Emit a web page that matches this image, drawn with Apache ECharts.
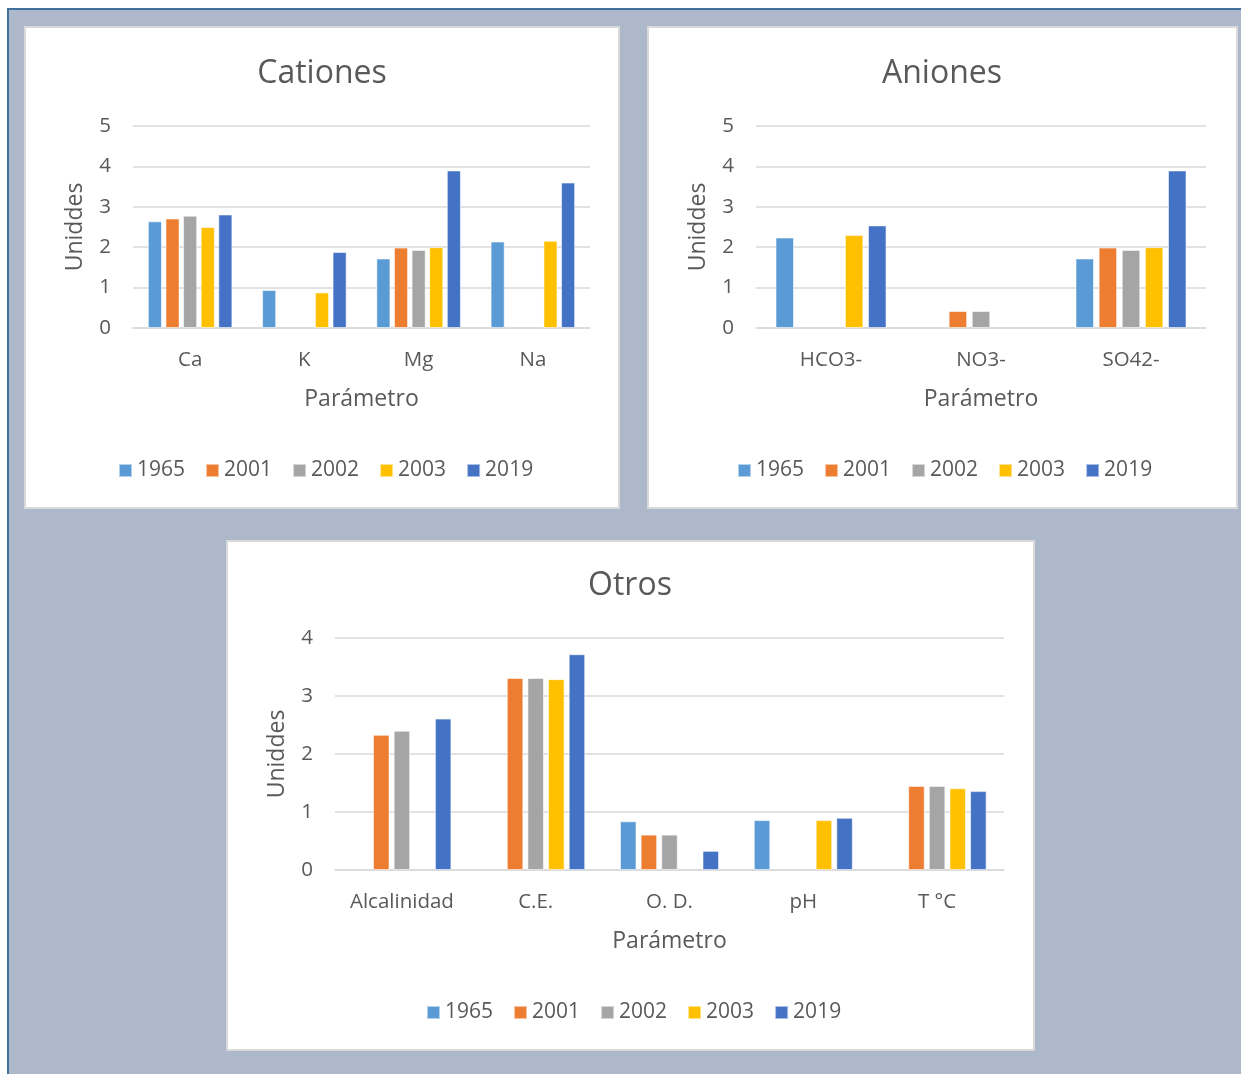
<!DOCTYPE html>
<html>
<head>
<meta charset="utf-8">
<script src="https://cdn.jsdelivr.net/npm/echarts@6/dist/echarts.min.js"></script>
<style>
html,body{margin:0;padding:0;background:#fff;}
#c{width:1241px;height:1074px;}
</style>
</head>
<body>
<div id="c"></div>
<script>
const years = ['1965','2001','2002','2003','2019'];
const colors = ['#5B9BD5','#ED7D31','#A5A5A5','#FFC000','#4472C4'];

const catCategories = ['Ca','K','Mg','Na'];
const cat1965 = [2.64, 0.94, 1.72, 2.14];
const cat2001 = [2.71, null, 1.99, null];
const cat2002 = [2.78, null, 1.93, null];
const cat2003 = [2.50, 0.88, 2.00, 2.16];
const cat2019 = [2.81, 1.88, 3.90, 3.60];

const aniCategories = ['HCO3-','NO3-','SO42-'];
const ani1965 = [2.24, null, 1.72];
const ani2001 = [null, 0.42, 1.99];
const ani2002 = [null, 0.42, 1.93];
const ani2003 = [2.30, null, 2.00];
const ani2019 = [2.54, null, 3.90];

const otrCategories = ['Alcalinidad','C.E.','O. D.','pH','T °C'];
const otr1965 = [null, null, 0.84, 0.86, null];
const otr2001 = [2.33, 3.31, 0.61, null, 1.45];
const otr2002 = [2.40, 3.31, 0.61, null, 1.45];
const otr2003 = [null, 3.29, null, 0.86, 1.41];
const otr2019 = [2.61, 3.72, 0.33, 0.90, 1.36];

const catTicks = [0,1,2,3,4,5];
const otrTicks = [0,1,2,3,4];

const FONT = 'Open Sans';
const TXT = '#595959';
const GRIDC = '#D9D9D9';

const chart = echarts.init(document.getElementById('c'), null, {renderer:'canvas'});

function xAxisDef(idx, cats){
  return {
    type:'category', gridIndex: idx, data: cats,
    axisLine:{show:true, lineStyle:{color:GRIDC, width:1.5}},
    axisTick:{show:false},
    axisLabel:{color:TXT, fontFamily:FONT, fontSize:20.5, margin:22, interval:0},
    name:'Parámetro', nameLocation:'middle', nameGap:60,
    nameTextStyle:{color:TXT, fontFamily:FONT, fontSize:23}
  };
}
function yAxisDef(idx, ticks){
  return {
    type:'value', gridIndex: idx, min: ticks[0], max: ticks[ticks.length-1], interval: 1,
    axisLine:{show:false}, axisTick:{show:false},
    axisLabel:{color:TXT, fontFamily:FONT, fontSize:20.5, margin:22},
    splitLine:{lineStyle:{color:GRIDC, width:1.5}},
    name:'Uniddes', nameLocation:'middle', nameGap:46, nameRotate:90,
    nameTextStyle:{color:TXT, fontFamily:FONT, fontSize:23}
  };
}
function seriesFor(idx, arrs){
  return arrs.map((d,i)=>({
    type:'bar', name: years[i], xAxisIndex: idx, yAxisIndex: idx, data: d,
    barGap:'25%', barCategoryGap:'26%',
    itemStyle:{color: colors[i], borderColor:'rgba(255,255,255,0.55)', borderWidth:1},
    emphasis:{disabled:true}
  }));
}
function legendDef(left, top){
  return {
    data: years, left: left, top: top, padding:0,
    icon:'rect', itemWidth:13, itemHeight:13, itemGap:20,
    textStyle:{color:TXT, fontFamily:FONT, fontSize:21},
    selectedMode:false
  };
}
function titleDef(text, cx, top){
  return {text:text, left:cx, top:top, textAlign:'center', padding:0,
    textStyle:{color:TXT, fontFamily:FONT, fontSize:32, fontWeight:'normal'}};
}

chart.setOption({
  animation:false,
  color: colors,
  graphic:[
    {type:'rect', z:-10, shape:{x:8, y:9, width:1300, height:1200},
      style:{fill:'#ADB9CA', stroke:'#41719C', lineWidth:2}},
    {type:'rect', z:-9, shape:{x:25, y:27, width:594, height:481},
      style:{fill:'#fff', stroke:'#D9D9D9', lineWidth:2}},
    {type:'rect', z:-9, shape:{x:648, y:27, width:589, height:481},
      style:{fill:'#fff', stroke:'#D9D9D9', lineWidth:2}},
    {type:'rect', z:-9, shape:{x:227, y:541, width:807, height:509},
      style:{fill:'#fff', stroke:'#D9D9D9', lineWidth:2}}
  ],
  title:[
    titleDef('Cationes', 322, 58),
    titleDef('Aniones', 942, 58),
    titleDef('Otros', 630, 570)
  ],
  legend:[
    legendDef(118, 460),
    legendDef(737, 460),
    legendDef(426, 1002)
  ],
  grid:[
    {left:133, top:126, width:457, height:202},
    {left:756, top:126, width:450, height:202},
    {left:335, top:638, width:669, height:232}
  ],
  xAxis:[xAxisDef(0,catCategories), xAxisDef(1,aniCategories), xAxisDef(2,otrCategories)],
  yAxis:[yAxisDef(0,catTicks), yAxisDef(1,catTicks), yAxisDef(2,otrTicks)],
  series:[].concat(
    seriesFor(0,[cat1965,cat2001,cat2002,cat2003,cat2019]),
    seriesFor(1,[ani1965,ani2001,ani2002,ani2003,ani2019]),
    seriesFor(2,[otr1965,otr2001,otr2002,otr2003,otr2019])
  )
});
</script>
</body>
</html>
